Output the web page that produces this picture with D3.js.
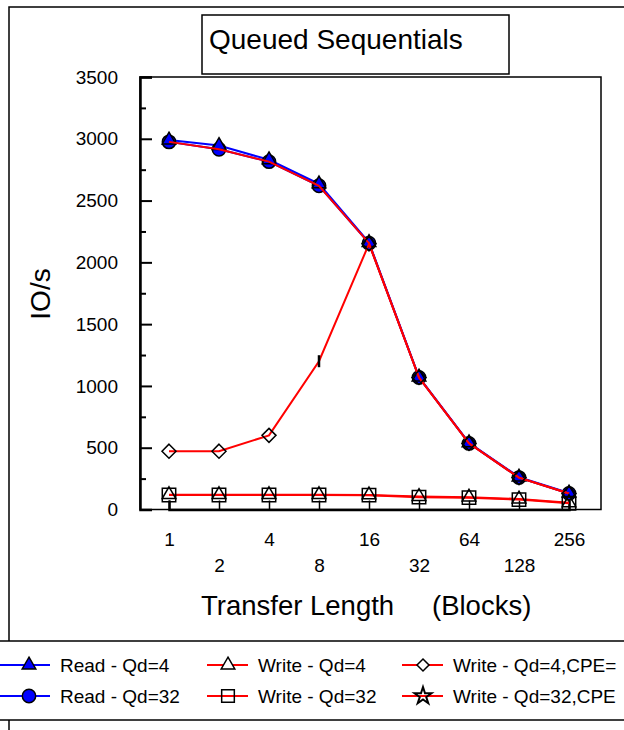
<!DOCTYPE html>
<html lang="en">
<head>
  <meta charset="utf-8">
  <title>Queued Sequentials</title>
  <script src="https://d3js.org/d3.v7.min.js"></script>
  <style type="text/css">
    body { margin: 0; background: white; }
    text { font-family: "Liberation Sans", Arial, sans-serif; fill: black; }
  </style>
</head>
<body>
  <script type="text/javascript">

// transfer length in blocks
const blockSizes = [1, 2, 4, 8, 16, 32, 64, 128, 256];
const yTicks = [0, 500, 1000, 1500, 2000, 2500, 3000, 3500];

const readQd4 = [2990, 2945, 2830, 2635, 2160, 1072, 540, 262, 133];
const readQd32 = [2975, 2915, 2815, 2620, 2155, 1068, 535, 258, 130];
const writeQd4 = [120, 120, 120, 120, 118, 105, 100, 85, 55];
const writeQd32 = [117, 117, 117, 117, 116, 100, 96, 80, 50];
const writeQd4Cpe = [472, 472, 600, 1200, 2150, 1068, 535, 258, 130];
const writeQd32Cpe = [2975, 2915, 2815, 2620, 2155, 1068, 535, 258, 130];

const seriesNames = ["Read - Qd=4", "Read - Qd=32", "Write - Qd=4", "Write - Qd=32", "Write - Qd=4,CPE=", "Write - Qd=32,CPE"];

const svgWidth = 624;
const svgHeight = 730;

const svg = d3.select("body")
    .append("svg")
    .attr("width", svgWidth)
    .attr("height", svgHeight);

svg.append("rect")
    .attr("width", svgWidth)
    .attr("height", svgHeight)
    .attr("fill", "white");

// outer frame (runs off the right and bottom edges)
svg.append("rect")
    .attr("x", 9)
    .attr("y", 7)
    .attr("width", 700)
    .attr("height", 800)
    .attr("fill", "none")
    .attr("stroke", "black")
    .attr("stroke-width", 1.5);

const xScale = d3.scaleLog()
    .base(2)
    .domain([1, 256])
    .range([169, 569]);

const yScale = d3.scaleLinear()
    .domain([0, 3500])
    .range([509.5, 77]);

// plot frame
svg.append("rect")
    .attr("x", 140)
    .attr("y", 77)
    .attr("width", 461)
    .attr("height", 432.5)
    .attr("fill", "white")
    .attr("stroke", "black")
    .attr("stroke-width", 1.5);

// title box
svg.append("rect")
    .attr("x", 202)
    .attr("y", 15)
    .attr("width", 307)
    .attr("height", 59)
    .attr("fill", "white")
    .attr("stroke", "black")
    .attr("stroke-width", 1.5);

svg.append("text")
    .attr("x", 209)
    .attr("y", 49)
    .style("font-size", "28px")
    .text("Queued Sequentials");

// y axis, ticks pointing inward
const yAxis = d3.axisLeft(yScale)
    .tickValues(yTicks)
    .tickSize(-12)
    .tickPadding(22)
    .tickFormat(d3.format("d"));

const yG = svg.append("g")
    .attr("transform", "translate(140, 0)")
    .call(yAxis);
yG.select(".domain").attr("stroke-width", 2.5);
yG.selectAll(".tick line").attr("stroke-width", 2);
yG.selectAll("text").style("font-size", "19px").attr("font-family", null);

const yMinor = d3.axisLeft(yScale)
    .tickValues(yTicks.slice(0, -1).map(v => v + 250))
    .tickSize(-6)
    .tickFormat("");

const yMinorG = svg.append("g")
    .attr("transform", "translate(140, 0)")
    .call(yMinor);
yMinorG.select(".domain").remove();
yMinorG.selectAll(".tick line").attr("stroke-width", 2);

// x axis, labels staggered on two rows
const xAxis = d3.axisBottom(xScale)
    .tickValues(blockSizes)
    .tickSize(-9)
    .tickFormat(d3.format("d"));

const xG = svg.append("g")
    .attr("transform", "translate(0, 509.5)")
    .call(xAxis);
xG.select(".domain").attr("stroke-width", 2.5);
xG.selectAll(".tick line").attr("stroke-width", 1.5);
xG.selectAll("text")
    .style("font-size", "19px")
    .attr("font-family", null)
    .attr("y", (d, i) => i % 2 ? 56 : 30)
    .attr("dy", "0.35em");

svg.append("text")
    .attr("x", 201)
    .attr("y", 615)
    .style("font-size", "27.5px")
    .text("Transfer Length");

svg.append("text")
    .attr("x", 432)
    .attr("y", 615)
    .style("font-size", "27.5px")
    .text("(Blocks)");

svg.append("text")
    .attr("transform", "translate(50, 294) rotate(-90)")
    .attr("text-anchor", "middle")
    .style("font-size", "28px")
    .text("IO/s");

const line = d3.line()
    .x((d, i) => xScale(blockSizes[i]))
    .y(d => yScale(d));

function drawLine(values, color) {
  svg.append("path")
      .datum(values)
      .attr("fill", "none")
      .attr("stroke", color)
      .attr("stroke-width", 2)
      .attr("d", line);
}

function drawMarkers(values, symbolType, size, fill) {
  svg.selectAll(null)
      .data(values)
      .enter()
      .append("path")
      .attr("transform", (d, i) => `translate(${xScale(blockSizes[i])}, ${yScale(d)})`)
      .attr("d", d3.symbol().type(symbolType).size(size))
      .attr("fill", fill)
      .attr("stroke", "black")
      .attr("stroke-width", 1.5);
}

drawLine(readQd4, "blue");
drawLine(readQd32, "blue");
drawMarkers(readQd32, d3.symbolCircle, 140, "blue");
drawMarkers(readQd4, d3.symbolTriangle, 80, "blue");

drawLine(writeQd32Cpe, "red");
drawLine(writeQd4, "red");
drawLine(writeQd32, "red");
drawLine(writeQd4Cpe, "red");

drawMarkers(writeQd4, d3.symbolTriangle, 80, "none");
drawMarkers(writeQd32, d3.symbolSquare, 180, "none");

// diamonds; the one at 8 blocks is drawn collapsed into a bar
svg.selectAll(null)
    .data(writeQd4Cpe)
    .enter()
    .append("path")
    .attr("transform", (d, i) => `translate(${xScale(blockSizes[i])}, ${yScale(d)})`)
    .attr("d", (d, i) => i === 3 ? "M0,-6L0,6" : "M0,-7L7,0L0,7L-7,0Z")
    .attr("fill", "none")
    .attr("stroke", "black")
    .attr("stroke-width", (d, i) => i === 3 ? 2.5 : 1.5);

// legend
svg.append("rect")
    .attr("x", -5)
    .attr("y", 641)
    .attr("width", 700)
    .attr("height", 79)
    .attr("fill", "white")
    .attr("stroke", "black")
    .attr("stroke-width", 1.5);

const legendCols = [0, 207, 402];
const legendRows = [665, 696];
const legendItems = [
  { name: seriesNames[0], color: "blue", symbol: d3.symbolTriangle, size: 80, fill: "blue" },
  { name: seriesNames[1], color: "blue", symbol: d3.symbolCircle, size: 140, fill: "blue" },
  { name: seriesNames[2], color: "red", symbol: d3.symbolTriangle, size: 80, fill: "white" },
  { name: seriesNames[3], color: "red", symbol: d3.symbolSquare, size: 160, fill: "none" },
  { name: seriesNames[4], color: "red", symbol: null, size: 0, fill: "white" },
  { name: seriesNames[5], color: "red", symbol: d3.symbolStar, size: 90, fill: "none" }
];

legendItems.forEach((item, k) => {
  const col = Math.floor(k / 2);
  const x0 = legendCols[col];
  const x1 = col === 0 ? 50 : x0 + 41;
  const mx = col === 0 ? 29 : x0 + 21;
  const y = legendRows[k % 2];
  const g = svg.append("g");

  g.append("line")
      .attr("x1", x0)
      .attr("x2", x1)
      .attr("y1", y)
      .attr("y2", y)
      .attr("stroke", item.color)
      .attr("stroke-width", 2);

  g.append("path")
      .attr("transform", `translate(${mx}, ${y})`)
      .attr("d", item.symbol ? d3.symbol().type(item.symbol).size(item.size) : "M0,-6L6,0L0,6L-6,0Z")
      .attr("fill", item.fill)
      .attr("stroke", "black")
      .attr("stroke-width", item.symbol === d3.symbolStar ? 2 : 1.5);

  g.append("text")
      .attr("x", x0 + (col === 0 ? 60 : 51))
      .attr("y", y)
      .attr("dy", "0.35em")
      .style("font-size", "19px")
      .text(item.name);
});

  </script>
</body>
</html>
